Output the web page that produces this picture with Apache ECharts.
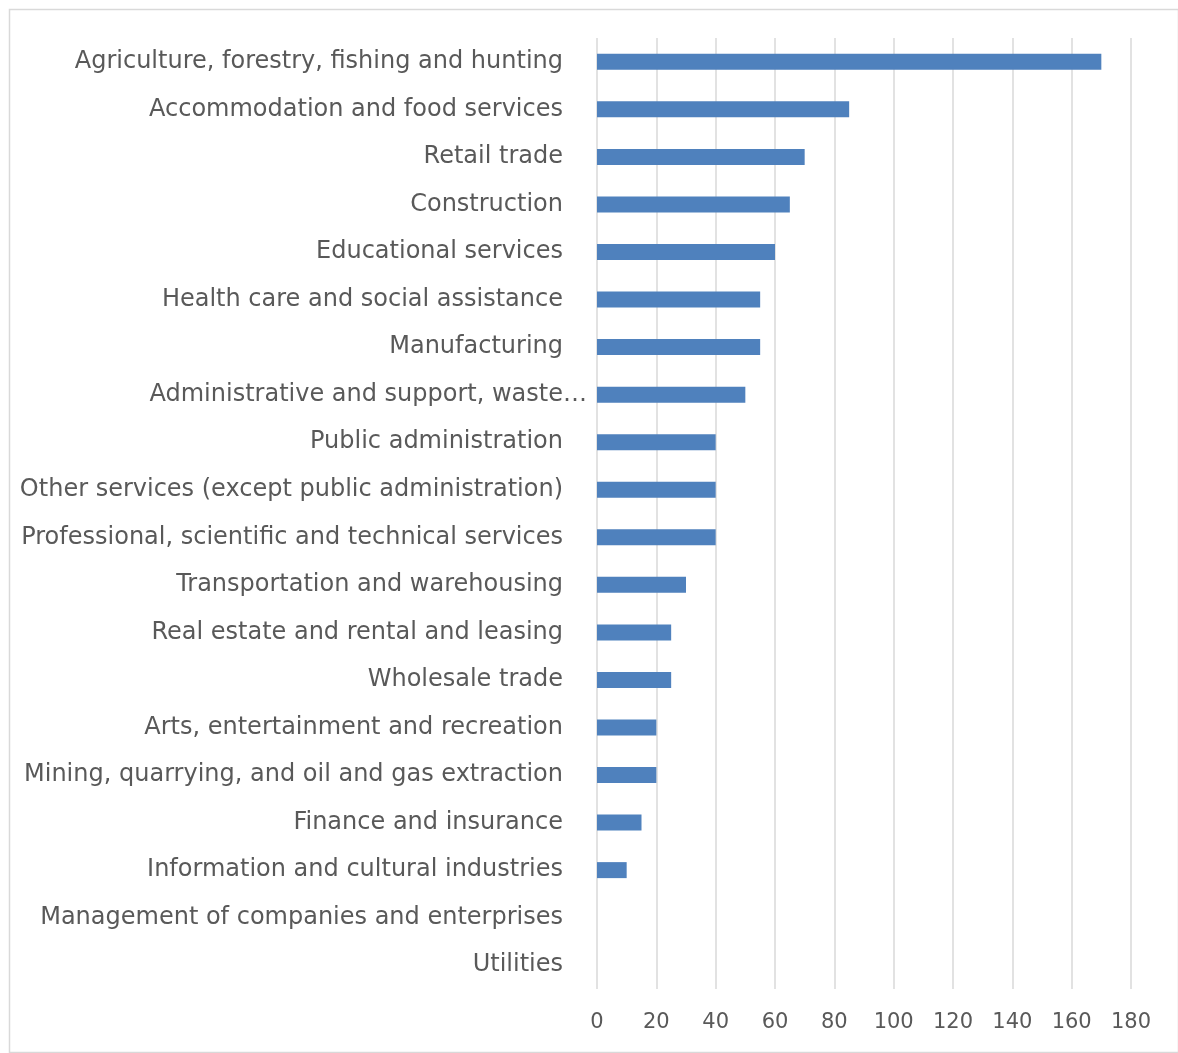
<!DOCTYPE html>
<html>
<head>
<meta charset="utf-8">
<title>Industries</title>
<script src="https://cdn.jsdelivr.net/npm/echarts@6/dist/echarts.min.js"></script>
<style>
  html, body { margin: 0; padding: 0; background: #ffffff; }
  #chart { width: 1178px; height: 1053px; }
</style>
</head>
<body>
<div id="chart"></div>
<script>
// Industry names, top to bottom
const industries = [
  'Agriculture, forestry, fishing and hunting',
  'Accommodation and food services',
  'Retail trade',
  'Construction',
  'Educational services',
  'Health care and social assistance',
  'Manufacturing',
  'Administrative and support, waste\u2026',
  'Public administration',
  'Other services (except public administration)',
  'Professional, scientific and technical services',
  'Transportation and warehousing',
  'Real estate and rental and leasing',
  'Wholesale trade',
  'Arts, entertainment and recreation',
  'Mining, quarrying, and oil and gas extraction',
  'Finance and insurance',
  'Information and cultural industries',
  'Management of companies and enterprises',
  'Utilities'
];

// Value for each industry
const counts = [170, 85, 70, 65, 60, 55, 55, 50, 40, 40, 40, 30, 25, 25, 20, 20, 15, 10, 0, 0];

// Value axis ticks
const tickMin = 0;
const tickMax = 180;
const tickStep = 20;

const chart = echarts.init(document.getElementById('chart'), null, { renderer: 'canvas' });

const textColor = '#595959';
const fontFamily = '"DejaVu Sans", sans-serif';
const nameSize = 24;
const tickSize = 21;

chart.setOption({
  animation: false,
  backgroundColor: '#ffffff',
  graphic: [{
    type: 'rect',
    left: 7,
    top: 7,
    shape: { width: 1169, height: 1043 },
    style: { fill: 'none', stroke: '#d9d9d9', lineWidth: 1.5 },
    silent: true
  }],
  grid: {
    left: 597,
    right: 47,
    top: 38,
    bottom: 64,
    containLabel: false
  },
  xAxis: {
    type: 'value',
    min: tickMin,
    max: tickMax,
    interval: tickStep,
    axisLine: { show: false },
    axisTick: { show: false },
    splitLine: { show: true, lineStyle: { color: '#d9d9d9', width: 1.5 } },
    axisLabel: {
      color: textColor,
      fontFamily: fontFamily,
      fontSize: tickSize,
      margin: 23
    }
  },
  yAxis: {
    type: 'category',
    data: industries,
    inverse: true,
    axisLine: { show: false },
    axisTick: { show: false },
    axisLabel: {
      color: textColor,
      fontFamily: fontFamily,
      fontSize: nameSize,
      margin: 10,
      interval: 0,
      formatter: function (value) {
        // the shortened name sits closer to the axis
        return value.endsWith('\u2026') ? '{t|' + value + '}' : '{p|' + value + '}';
      },
      rich: {
        p: { color: textColor, fontFamily: fontFamily, fontSize: nameSize, padding: [0, 24, 0, 0] },
        t: { color: textColor, fontFamily: fontFamily, fontSize: nameSize, padding: [0, 0, 0, 0] }
      }
    }
  },
  series: [{
    type: 'bar',
    data: counts,
    barWidth: 16,
    itemStyle: {
      color: '#4f81bd',
      borderWidth: 0
    }
  }]
});
</script>
</body>
</html>
